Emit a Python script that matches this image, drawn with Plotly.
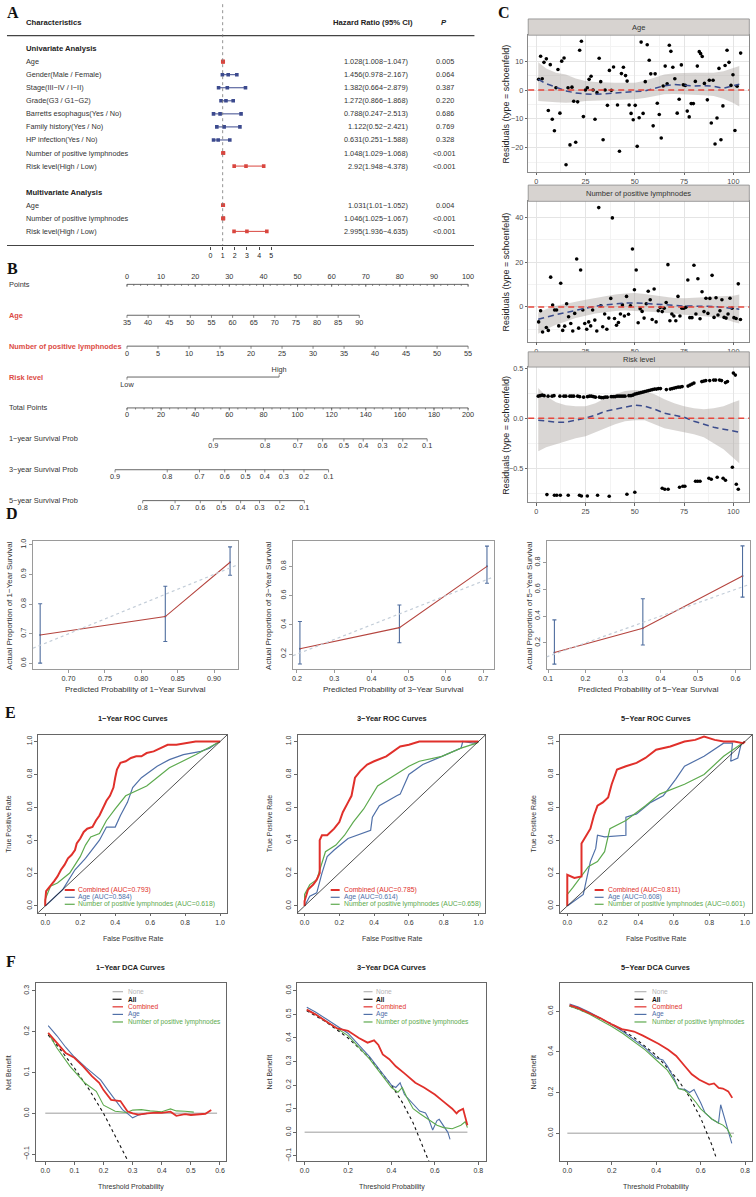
import plotly.graph_objects as go

W, H = 756, 1197
SANS = "Liberation Sans, Arial, sans-serif"
NARROW = "Liberation Sans, Arial, sans-serif"
SERIF = "Liberation Serif, Times New Roman, serif"

# ---------------- Panel A data (forest plot) ----------------
uni_labels = ["Age", "Gender(Male / Female)", "Stage(III−IV / I−II)", "Grade(G3 / G1−G2)",
              "Barretts esophagus(Yes / No)", "Family history(Yes / No)", "HP infection(Yes / No)",
              "Number of positive lymphnodes", "Risk level(High / Low)"]
uni_hr = [1.028, 1.456, 1.382, 1.272, 0.788, 1.122, 0.631, 1.048, 2.92]
uni_lo = [1.008, 0.978, 0.664, 0.866, 0.247, 0.52, 0.251, 1.029, 1.948]
uni_hi = [1.047, 2.167, 2.879, 1.868, 2.513, 2.421, 1.588, 1.068, 4.378]
uni_p = ["0.005", "0.064", "0.387", "0.220", "0.686", "0.769", "0.328", "<0.001", "<0.001"]
multi_labels = ["Age", "Number of positive lymphnodes", "Risk level(High / Low)"]
multi_hr = [1.031, 1.046, 2.995]
multi_lo = [1.01, 1.025, 1.936]
multi_hi = [1.052, 1.067, 4.635]
multi_p = ["0.004", "<0.001", "<0.001"]
forest_ticks = [0, 1, 2, 3, 4, 5]

# ---------------- Panel B data (nomogram) ----------------
points_ticks = [0, 10, 20, 30, 40, 50, 60, 70, 80, 90, 100]
age_ticks = [35, 40, 45, 50, 55, 60, 65, 70, 75, 80, 85, 90]
age_points_max = 68.1
ln_ticks = [0, 5, 10, 15, 20, 25, 30, 35, 40, 45, 50, 55]
ln_points_max = 100
risk_levels = ["Low", "High"]
risk_points = [0, 44.6]
total_ticks = [0, 20, 40, 60, 80, 100, 120, 140, 160, 180, 200]
surv1_labels = [0.9, 0.8, 0.7, 0.6, 0.5, 0.4, 0.3, 0.2, 0.1]
surv1_total = [50.6, 81.0, 100.1, 114.7, 127.2, 138.5, 149.8, 161.7, 176.0]
surv3_labels = [0.9, 0.8, 0.7, 0.6, 0.5, 0.4, 0.3, 0.2, 0.1]
surv3_total = [-7.0, 23.6, 42.5, 57.3, 69.5, 80.8, 91.9, 103.8, 118.2]
surv5_labels = [0.8, 0.7, 0.6, 0.5, 0.4, 0.3, 0.2, 0.1]
surv5_total = [9.2, 28.2, 43.0, 55.3, 66.6, 77.7, 89.6, 104.0]

# ---------------- Panel C data (Schoenfeld residuals) ----------------
age_t = [1.2, 2.2, 3, 3.9, 5.1, 6.1, 7.1, 8.1, 9.2, 10, 11, 12, 12.9, 14.1, 15.1, 16.1, 17.1, 18.1, 19, 20,
         21, 22, 22.9, 23.9, 24.9, 25.9, 26.8, 27.8, 28.8, 29.8, 30.8, 31.9, 32.7, 33.9, 34.9, 36.1, 37.1,
         38.1, 39.2, 41.2, 42.2, 43.2, 44.2, 45.3, 46.1, 47.1, 48.1, 49.2, 50.2, 51.2, 52.2, 53.2, 54.2,
         55.3, 56.3, 57.3, 58.1, 59.3, 60.3, 61.4, 62.4, 63.4, 64.4, 65.4, 66.4, 67.5, 68.3, 69.3, 70.3,
         71.5, 72.5, 73.6, 74.6, 75.6, 76.6, 77.6, 78.6, 79.7, 80.7, 81.7, 82.7, 83.4, 84.2, 85.3, 86.8,
         87.8, 88.8, 89.7, 90.7, 91.7, 92.7, 93.7, 94.7, 95.8, 96.8, 97.8, 98.8, 99.8, 100.8, 101.9, 103.7]
age_r = [3.7, 11.7, 3.9, 9.6, 10.8, -7.1, 8.8, -10.1, -14.1, 0.8, 7.1, -8.0, 10.0, 11.1, -25.9, 0.8, -19.0,
         1.0, -3.9, -18.1, -4.1, 13.8, 16.9, -9.2, 0.0, 0.8, 3.7, 4.8, 0.0, -10.1, -0.9, 11.0, 2.9, -17.2,
         0.0, -5.3, 6.8, -0.1, 8.0, -5.2, -21.2, 5.7, 7.9, 5.0, 3.1, -5.2, -8.1, -10.3, -5.3, -19.5, -9.6,
         16.6, -8.1, 2.9, 15.7, 10.3, 5.6, -12.4, 5.6, -4.6, -8.5, -16.6, 1.4, 8.3, 2.2, 15.5, 13.4, 7.9,
         3.9, -8.0, -3.2, 8.7, 1.8, 1.6, -7.3, -9.3, -4.7, -4.7, 3.0, 8.3, 13.3, 12.6, 11.6, 2.3, -3.4, 3.4,
         -11.4, 3.4, -18.7, -9.7, 7.5, -17.2, -5.5, 8.5, 13.8, 9.6, 1.6, 5.3, -14.0, 1.3, 12.8]
ln_t = [1.2, 2.2, 3.2, 5.1, 6.1, 7.3, 8.3, 9.3, 10.3, 11.4, 12.4, 13.4, 14.4, 15.4, 16.4, 17.5, 18.5, 19.5,
        20.5, 21.5, 22.5, 23.6, 24.6, 25.6, 26.6, 27.6, 28.6, 29.7, 30.7, 31.7, 32.7, 33.7, 34.7, 35.8, 36.8,
        37.8, 38.6, 39.7, 40.7, 41.7, 42.7, 43.7, 44.7, 45.8, 46.8, 47.8, 48.8, 49.8, 50.7, 51.7, 52.7, 53.7,
        54.7, 55.8, 56.8, 57.8, 58.8, 59.8, 60.8, 61.9, 62.9, 63.9, 64.9, 65.9, 66.8, 67.8, 68.8, 69.8, 70.8,
        71.9, 72.9, 73.9, 74.9, 75.9, 76.9, 77.9, 79.0, 80.0, 81.0, 82.0, 83.1, 84.1, 85.1, 86.1, 87.1, 88.1,
        89.2, 90.2, 91.2, 92.2, 93.2, 94.2, 95.3, 96.3, 97.3, 98.3, 99.3, 100.3, 101.4, 102.5, 103.6]
ln_r = [-6.7, -1.7, -11.2, -9.2, -10.5, 13.3, 0.8, -1.4, -1.4, -8.5, 10.6, -10.5, -8.6, 1.4, -4.4, -7.4,
        -10.8, -2.9, 21.4, -9.5, 16.5, -1.4, -7.4, -10.0, -6.7, -8.5, -1.4, -5.9, -10.8, 44.4, 0.5, -8.9,
        -3.2, -10.0, -5.0, 3.8, 39.8, -5.2, -8.2, -7.0, -3.2, 0.9, -4.1, 4.7, -3.3, 0.5, 25.9, 7.7, 16.5,
        -7.1, -0.8, -2.0, -5.0, 1.4, 7.0, 3.2, -5.6, 8.0, -6.7, -1.7, -0.3, -2.1, -0.6, 2.0, 18.9, -6.2,
        -3.2, -4.1, -6.2, 4.7, -4.1, -0.6, -0.6, -0.2, 12.0, -4.8, -4.8, 18.6, -3.2, 12.6, -5.3, 6.8, -2.1,
        3.9, -2.9, 3.8, 14.1, -4.7, 4.1, -3.6, -1.7, 3.2, -4.7, -5.0, -3.2, 3.9, -0.6, -4.8, -5.2, 10.3, -5.6]
risk_up_t = [1, 2, 3, 4, 6, 8, 9, 12, 14, 15, 17, 18, 19, 21, 22, 24, 26, 27, 28, 29, 30, 32, 33, 34, 35, 36,
             38, 39, 40, 41, 42, 43, 44, 45, 47, 48, 49, 50, 51, 52, 53, 54, 55, 56, 57, 58, 59, 60, 61, 62,
             63, 66, 68, 69, 70, 71, 72, 73, 74, 77, 78, 79, 80, 84, 85, 86, 88, 90, 91, 93, 94, 96, 97, 100, 101]
risk_up_r = [0.22, 0.225, 0.23, 0.225, 0.22, 0.22, 0.225, 0.22, 0.22, 0.22, 0.22, 0.22, 0.22, 0.22, 0.215,
             0.21, 0.215, 0.22, 0.22, 0.215, 0.21, 0.21, 0.205, 0.205, 0.21, 0.21, 0.215, 0.215, 0.215, 0.22,
             0.22, 0.22, 0.22, 0.22, 0.225, 0.225, 0.23, 0.24, 0.245, 0.25, 0.255, 0.26, 0.265, 0.27, 0.275,
             0.28, 0.285, 0.29, 0.29, 0.295, 0.295, 0.285, 0.29, 0.295, 0.30, 0.305, 0.31, 0.31, 0.315, 0.32,
             0.33, 0.34, 0.35, 0.365, 0.37, 0.375, 0.375, 0.38, 0.38, 0.38, 0.375, 0.355, 0.365, 0.45, 0.43]
risk_lo_t = [5.4, 9.2, 10.4, 12.2, 16.2, 21.9, 22.9, 25.9, 31.1, 37, 46, 50, 63.9, 65.2, 66.9, 72.7, 74.4,
             75.4, 80.8, 81.9, 83.1, 87.6, 88.8, 91.8, 94.8, 96, 99.5, 101.5, 102.5]
risk_lo_r = [-0.763, -0.77, -0.77, -0.77, -0.77, -0.77, -0.777, -0.777, -0.77, -0.78, -0.76, -0.74, -0.70,
             -0.71, -0.71, -0.69, -0.68, -0.68, -0.63, -0.63, -0.63, -0.60, -0.61, -0.59, -0.60, -0.62,
             -0.49, -0.66, -0.71]
smooth_t = [1, 5, 10, 15, 20, 25, 30, 35, 40, 45, 50, 55, 60, 65, 70, 75, 80, 85, 90, 95, 100, 103]
age_s = [3.7, 2.2, 1.0, -0.3, -1.0, -1.4, -1.5, -1.3, -1.0, -0.8, -0.6, -0.3, 0.6, 1.5, 1.9, 1.7, 1.4, 1.5, 1.3, 0.6, 1.6, 2.0]
age_hi = [9.6, 7.5, 6.0, 5.4, 4.0, 3.1, 2.8, 2.6, 2.5, 2.5, 2.5, 3.2, 4.3, 5.4, 5.8, 6.0, 6.0, 6.0, 6.0, 6.5, 7.5, 8.3]
age_lo = [-3.8, -4.0, -4.2, -4.4, -4.2, -3.8, -3.5, -3.4, -3.3, -3.3, -3.2, -2.8, -2.2, -1.5, -1.4, -1.5, -1.6, -1.8, -2.1, -3.0, -4.5, -5.7]
ln_s = [-5.5, -4.5, -3.5, -2.5, -1.5, -0.5, 0.3, 0.9, 1.4, 1.7, 1.8, 1.6, 1.3, 1.0, 0.7, 0.4, 0.2, 0.3, 0.2, -0.2, -0.8, -1.0]
ln_hi = [-2.5, -1.0, 0.5, 1.5, 2.5, 3.2, 4.0, 4.8, 5.5, 6.0, 6.2, 5.8, 5.2, 4.5, 4.0, 3.9, 4.0, 4.3, 4.6, 4.8, 5.0, 5.5]
ln_lo = [-12.0, -10.0, -8.0, -6.5, -5.0, -4.0, -3.0, -2.3, -1.8, -1.6, -1.8, -2.0, -2.3, -2.5, -3.0, -3.5, -4.0, -4.2, -4.5, -5.2, -6.7, -7.4]
risk_s = [-0.02, -0.03, -0.04, -0.04, -0.02, 0.0, 0.03, 0.07, 0.09, 0.11, 0.13, 0.12, 0.09, 0.05, 0.03, 0.01, -0.03, -0.06, -0.09, -0.11, -0.125, -0.14]
risk_hi = [0.30, 0.22, 0.16, 0.13, 0.12, 0.12, 0.15, 0.20, 0.24, 0.27, 0.28, 0.27, 0.24, 0.19, 0.15, 0.12, 0.10, 0.09, 0.10, 0.12, 0.16, 0.18]
risk_lo = [-0.33, -0.29, -0.26, -0.23, -0.20, -0.18, -0.14, -0.10, -0.06, -0.03, -0.02, -0.02, -0.06, -0.10, -0.12, -0.14, -0.16, -0.19, -0.25, -0.31, -0.40, -0.45]

# ---------------- Panel D data (calibration) ----------------
cal_pred = [[0.661, 0.833, 0.922], [0.208, 0.475, 0.71], [0.117, 0.353, 0.619]]
cal_obs = [[0.696, 0.758, 0.941], [0.237, 0.381, 0.80], [0.129, 0.31, 0.70]]
cal_lo = [[0.601, 0.674, 0.897], [0.133, 0.278, 0.685], [0.042, 0.185, 0.542]]
cal_hi = [[0.801, 0.860, 0.993], [0.423, 0.536, 0.938], [0.372, 0.53, 0.925]]
cal_years = ["1", "3", "5"]

# ---------------- Panel E data (ROC) ----------------
roc1_comb_fpr = [0, 0, 0.005, 0.03, 0.05, 0.07, 0.09, 0.11, 0.13, 0.15, 0.17, 0.18, 0.20, 0.22, 0.24, 0.27, 0.29, 0.31, 0.33, 0.35, 0.37, 0.39, 0.40, 0.41, 0.43, 0.46, 0.49, 0.52, 0.55, 0.58, 0.62, 0.66, 0.70, 0.75, 0.80, 0.86, 0.92, 0.97, 1.0]
roc1_comb_tpr = [0, 0.03, 0.09, 0.12, 0.15, 0.18, 0.22, 0.25, 0.29, 0.31, 0.34, 0.38, 0.41, 0.45, 0.47, 0.48, 0.52, 0.55, 0.60, 0.64, 0.67, 0.72, 0.78, 0.83, 0.87, 0.88, 0.90, 0.91, 0.91, 0.93, 0.94, 0.96, 0.98, 0.98, 0.99, 1.0, 1.0, 1.0, 1.0]
roc1_age_fpr = [0, 0.05, 0.10, 0.17, 0.23, 0.31, 0.35, 0.40, 0.43, 0.47, 0.50, 0.55, 0.64, 0.71, 0.79, 0.89, 0.94, 0.98, 1.0]
roc1_age_tpr = [0, 0.05, 0.10, 0.22, 0.29, 0.40, 0.48, 0.48, 0.55, 0.63, 0.72, 0.78, 0.85, 0.89, 0.92, 0.94, 0.96, 0.99, 1.0]
roc1_ln_fpr = [0, 0, 0.03, 0.07, 0.14, 0.20, 0.23, 0.26, 0.31, 0.35, 0.40, 0.46, 0.58, 0.71, 0.86, 0.98, 1.0]
roc1_ln_tpr = [0, 0.04, 0.12, 0.14, 0.20, 0.30, 0.37, 0.42, 0.44, 0.52, 0.59, 0.67, 0.73, 0.84, 0.92, 0.99, 1.0]
roc2_comb_fpr = [0, 0, 0.02, 0.05, 0.07, 0.087, 0.087, 0.10, 0.13, 0.15, 0.17, 0.20, 0.22, 0.25, 0.27, 0.29, 0.32, 0.36, 0.40, 0.47, 0.55, 0.60, 0.66, 0.74, 0.85, 0.92, 1.0]
roc2_comb_tpr = [0, 0.03, 0.10, 0.13, 0.16, 0.20, 0.40, 0.43, 0.43, 0.45, 0.47, 0.51, 0.57, 0.63, 0.67, 0.78, 0.82, 0.86, 0.88, 0.91, 0.97, 0.98, 1.0, 1.0, 1.0, 1.0, 1.0]
roc2_age_fpr = [0, 0.03, 0.07, 0.10, 0.13, 0.17, 0.25, 0.38, 0.39, 0.43, 0.53, 0.55, 0.60, 0.68, 0.79, 0.90, 0.91, 0.97, 1.0]
roc2_age_tpr = [0, 0.06, 0.08, 0.20, 0.30, 0.34, 0.41, 0.46, 0.54, 0.61, 0.67, 0.68, 0.80, 0.86, 0.91, 0.96, 1.0, 0.99, 1.0]
roc2_ln_fpr = [0, 0, 0.03, 0.07, 0.12, 0.18, 0.23, 0.28, 0.34, 0.38, 0.42, 0.60, 0.66, 0.79, 0.90, 0.99, 1.0]
roc2_ln_tpr = [0, 0.07, 0.13, 0.16, 0.33, 0.37, 0.43, 0.51, 0.59, 0.66, 0.73, 0.85, 0.88, 0.91, 0.96, 0.99, 1.0]
roc3_comb_fpr = [0, 0, 0.04, 0.08, 0.08, 0.11, 0.13, 0.15, 0.17, 0.20, 0.23, 0.25, 0.27, 0.28, 0.33, 0.39, 0.44, 0.50, 0.58, 0.66, 0.72, 0.77, 0.83, 0.88, 0.94, 0.99, 1.0]
roc3_comb_tpr = [0, 0.19, 0.17, 0.18, 0.38, 0.43, 0.47, 0.55, 0.61, 0.63, 0.66, 0.74, 0.80, 0.83, 0.85, 0.87, 0.90, 0.95, 0.97, 1.0, 1.01, 1.03, 1.01, 1.0, 1.0, 0.99, 1.0]
roc3_age_fpr = [0, 0.04, 0.09, 0.13, 0.16, 0.17, 0.21, 0.33, 0.33, 0.39, 0.47, 0.54, 0.61, 0.66, 0.77, 0.88, 0.93, 0.92, 0.96, 0.98, 1.0]
roc3_age_tpr = [0, 0.03, 0.07, 0.27, 0.35, 0.43, 0.42, 0.43, 0.54, 0.56, 0.63, 0.67, 0.77, 0.85, 0.91, 0.99, 0.99, 0.88, 0.90, 0.99, 1.0]
roc3_ln_fpr = [0, 0, 0.03, 0.07, 0.12, 0.17, 0.21, 0.24, 0.33, 0.44, 0.51, 0.52, 0.66, 0.77, 0.88, 0.99, 1.0]
roc3_ln_tpr = [0, 0.07, 0.11, 0.17, 0.24, 0.27, 0.33, 0.47, 0.52, 0.61, 0.67, 0.68, 0.74, 0.80, 0.91, 0.99, 1.0]
auc_comb = ["0.793", "0.785", "0.811"]
auc_age = ["0.584", "0.614", "0.608"]
auc_ln = ["0.618", "0.658", "0.601"]

# ---------------- Panel F data (DCA) ----------------
dca1_none_x = [0.0, 0.59]; dca1_none_y = [0, 0]
dca1_all_x = [0.01, 0.05, 0.10, 0.15, 0.20, 0.25, 0.28]
dca1_all_y = [0.192, 0.158, 0.111, 0.059, 0.0, -0.067, -0.111]
dca1_comb_x = [0.01, 0.04, 0.07, 0.10, 0.13, 0.16, 0.185, 0.20, 0.226, 0.258, 0.282, 0.30, 0.32, 0.35, 0.38, 0.40, 0.43, 0.45, 0.48, 0.50, 0.53, 0.55, 0.57]
dca1_comb_y = [0.197, 0.172, 0.148, 0.136, 0.115, 0.091, 0.075, 0.057, 0.033, 0.030, 0.005, 0.0, -0.003, 0.000, 0.002, 0.001, 0.004, -0.006, -0.002, -0.004, -0.003, -0.001, 0.008]
dca1_age_x = [0.01, 0.04, 0.07, 0.10, 0.14, 0.19, 0.215, 0.24, 0.265, 0.287, 0.30, 0.32, 0.35]
dca1_age_y = [0.215, 0.19, 0.162, 0.138, 0.112, 0.082, 0.057, 0.033, 0.009, -0.003, -0.011, -0.004, 0.0]
dca1_ln_x = [0.01, 0.04, 0.085, 0.135, 0.175, 0.20, 0.24, 0.28, 0.30, 0.33, 0.36, 0.40, 0.43, 0.45, 0.48, 0.51]
dca1_ln_y = [0.197, 0.16, 0.115, 0.075, 0.054, 0.02, 0.005, 0.002, 0.008, 0.009, 0.006, 0.004, 0.011, 0.006, 0.005, 0.003]

dca2_none_x = [0.0, 0.75]; dca2_none_y = [0, 0]
dca2_all_x = [0.01, 0.1, 0.2, 0.3, 0.4, 0.45, 0.5, 0.55, 0.575]
dca2_all_y = [0.515, 0.467, 0.40, 0.314, 0.20, 0.127, 0.04, -0.067, -0.129]
dca2_comb_x = [0.01, 0.05, 0.10, 0.15, 0.20, 0.25, 0.29, 0.32, 0.34, 0.36, 0.39, 0.42, 0.46, 0.51, 0.55, 0.60, 0.64, 0.68, 0.70, 0.71, 0.73, 0.75]
dca2_comb_y = [0.52, 0.50, 0.47, 0.44, 0.43, 0.40, 0.38, 0.39, 0.37, 0.33, 0.31, 0.28, 0.25, 0.21, 0.19, 0.16, 0.13, 0.10, 0.08, 0.09, 0.10, 0.03]
dca2_age_x = [0.01, 0.05, 0.1, 0.15, 0.2, 0.25, 0.3, 0.35, 0.4, 0.42, 0.44, 0.46, 0.48, 0.5, 0.53, 0.557, 0.57, 0.59, 0.61, 0.62, 0.64, 0.66, 0.67]
dca2_age_y = [0.53, 0.51, 0.48, 0.45, 0.42, 0.37, 0.32, 0.26, 0.20, 0.19, 0.21, 0.16, 0.14, 0.12, 0.09, 0.082, 0.06, 0.01, 0.05, 0.055, 0.03, 0.0, -0.03]
dca2_ln_x = [0.01, 0.05, 0.1, 0.15, 0.2, 0.25, 0.3, 0.35, 0.4, 0.43, 0.45, 0.47, 0.5, 0.53, 0.56, 0.61, 0.64, 0.68, 0.72, 0.74, 0.75]
dca2_ln_y = [0.52, 0.50, 0.47, 0.44, 0.41, 0.36, 0.31, 0.25, 0.19, 0.17, 0.19, 0.15, 0.10, 0.08, 0.06, 0.03, 0.02, 0.015, 0.03, 0.045, 0.02]

dca3_none_x = [0.0, 0.75]; dca3_none_y = [0, 0]
dca3_all_x = [0.01, 0.1, 0.2, 0.3, 0.4, 0.5, 0.55, 0.6, 0.65, 0.67]
dca3_all_y = [0.626, 0.589, 0.5375, 0.471, 0.383, 0.26, 0.178, 0.075, -0.057, -0.121]
dca3_comb_x = [0.01, 0.05, 0.1, 0.15, 0.2, 0.25, 0.27, 0.30, 0.34, 0.378, 0.41, 0.454, 0.49, 0.53, 0.56, 0.594, 0.62, 0.638, 0.66, 0.681, 0.70, 0.724, 0.742]
dca3_comb_y = [0.63, 0.615, 0.59, 0.565, 0.535, 0.51, 0.507, 0.50, 0.48, 0.459, 0.44, 0.41, 0.38, 0.328, 0.29, 0.263, 0.25, 0.239, 0.245, 0.223, 0.22, 0.206, 0.174]
dca3_age_x = [0.01, 0.05, 0.1, 0.15, 0.2, 0.25, 0.3, 0.35, 0.4, 0.43, 0.45, 0.48, 0.5, 0.53, 0.55, 0.57, 0.6, 0.62, 0.65, 0.68, 0.69, 0.70, 0.72, 0.74]
dca3_age_y = [0.635, 0.62, 0.595, 0.565, 0.535, 0.50, 0.46, 0.42, 0.37, 0.36, 0.33, 0.27, 0.22, 0.215, 0.20, 0.215, 0.15, 0.10, 0.07, 0.05, 0.14, 0.10, 0.03, -0.05]
dca3_ln_x = [0.01, 0.05, 0.1, 0.15, 0.2, 0.25, 0.3, 0.35, 0.4, 0.45, 0.48, 0.5, 0.53, 0.55, 0.58, 0.6, 0.63, 0.65, 0.68, 0.70, 0.72, 0.74]
dca3_ln_y = [0.625, 0.61, 0.585, 0.555, 0.525, 0.49, 0.45, 0.41, 0.36, 0.31, 0.26, 0.22, 0.21, 0.19, 0.15, 0.12, 0.09, 0.07, 0.05, 0.04, 0.02, -0.02]

# ================= helpers =================
fig = go.Figure()
annotations, shapes, axes = [], [], {}


def xdom(a, b):
    return [a / W, b / W]


def ydom(top, bot):
    return [1 - bot / H, 1 - top / H]


def xn(i):
    return "x" if i == 1 else f"x{i}"


def yn(i):
    return "y" if i == 1 else f"y{i}"


def text(t, x, y, size=7.5, color="#222", family=SANS, xanchor="center", yanchor="middle",
         xref="paper", yref="paper", angle=0):
    if xref == "paper":
        x = x / W
    if yref == "paper":
        y = 1 - y / H
    annotations.append(dict(text=t, x=x, y=y, xref=xref, yref=yref, showarrow=False, xanchor=xanchor,
                            yanchor=yanchor, textangle=angle, borderpad=0,
                            font=dict(size=size, color=color, family=family)))


def line_trace(i, x, y, color, width=1.0, dash=None, mode="lines"):
    fig.add_trace(go.Scatter(x=x, y=y, mode=mode, xaxis=xn(i), yaxis=yn(i), hoverinfo="skip",
                             showlegend=False, line=dict(color=color, width=width, dash=dash)))


def hidden_axes(i, xd, yd, xr, yr):
    axes["xaxis" if i == 1 else f"xaxis{i}"] = dict(domain=xd, range=xr, anchor=yn(i), visible=False)
    axes["yaxis" if i == 1 else f"yaxis{i}"] = dict(domain=yd, range=yr, anchor=xn(i), visible=False)


def fmt(v):
    s = f"{v:.1f}"
    return s.replace("-", "−")


# ================= Panel A =================
A_RED, A_NAVY = "#D9463F", "#3C4A8E"
axes["xaxis"] = dict(domain=xdom(4, 473.3), range=[-16.75, 21.72], anchor="y", tickvals=forest_ticks,
                     ticks="outside", ticklen=3, tickwidth=0.8, tickcolor="#444", showline=True,
                     linecolor="#444", linewidth=1.2, showgrid=False, zeroline=False,
                     tickfont=dict(family=SANS, size=7, color="#222"))
axes["yaxis"] = dict(domain=ydom(0, 243.3), range=[15.08, -3.49], anchor="x", visible=False)
shapes.append(dict(type="line", xref="paper", x0=4 / W, x1=473.3 / W, yref="y", y0=-0.99, y1=-0.99,
                   line=dict(color="#444", width=1.2)))
shapes.append(dict(type="line", xref="x", x0=1, x1=1, yref="y", y0=-3.4, y1=15.08,
                   line=dict(color="#777", width=0.8, dash="dot")))
text("<b>Characteristics</b>", 21.7, -2.02, yref="y", xanchor="left", size=7.7)
text("<b>Hazard Ratio (95% CI)</b>", 371.7, -2.02, yref="y", size=7.7)
text("<b><i>P</i></b>", 442.3, -2.02, yref="y", size=7.7)
text("<b>Univariate Analysis</b>", 21.7, 0, yref="y", xanchor="left", size=7.7)
text("<b>Multivariate Analysis</b>", 21.7, 11, yref="y", xanchor="left", size=7.7)
rows = list(zip(uni_labels, uni_hr, uni_lo, uni_hi, uni_p, range(1, 10))) + \
    list(zip(multi_labels, multi_hr, multi_lo, multi_hi, multi_p, [12, 13, 14]))
for lab, hr, lo, hi, p, idx in rows:
    sig = p.startswith("<") or float(p) < 0.05
    col = A_RED if sig else A_NAVY
    fig.add_trace(go.Scatter(x=[lo, hr, hi], y=[idx] * 3, mode="lines+markers", xaxis="x", yaxis="y",
                             line=dict(color=col, width=1), marker=dict(symbol="square", size=3.6, color=col),
                             hoverinfo="skip", showlegend=False))
    text(lab, 21.7, idx, yref="y", xanchor="left", size=7.3, color="#333")
    text(f"{hr}({lo}−{hi})", 407.7, idx, yref="y", xanchor="right", size=7.3, color="#333")
    text(p.replace("<", "&lt;"), 443.3, idx, yref="y", size=7.3, color="#333")

# ================= Panel B (nomogram) =================
NOMO = "#555555"
hidden_axes(2, xdom(0, 500), ydom(262, 512), [-72.7, 219.3], [7.41, -0.655])
TL = 0.085


def nomo_row(r, major_x, labels, side="below", minor_x=()):
    line_trace(2, [min(major_x), max(major_x)], [r, r], NOMO, 0.9)
    tx, ty = [], []
    for v in major_x:
        tx += [v, v, None]
        ty += [r, r + TL, None]
    for v in minor_x:
        tx += [v, v, None]
        ty += [r, r + TL * 0.6, None]
    line_trace(2, tx, ty, NOMO, 0.7)
    off = -0.235 if side == "above" else 0.25
    fig.add_trace(go.Scatter(x=major_x, y=[r + off] * len(major_x), mode="text", text=labels,
                             textfont=dict(family=SANS, size=7.3, color="#333"), xaxis="x2", yaxis="y2",
                             hoverinfo="skip", showlegend=False))


nomo_row(0, [2 * v for v in points_ticks], [str(v) for v in points_ticks], "above",
         [2 * v for v in range(0, 101, 2)])
nomo_row(1, [2 * (a - age_ticks[0]) / (age_ticks[-1] - age_ticks[0]) * age_points_max for a in age_ticks],
         [str(a) for a in age_ticks])
nomo_row(2, [2 * n / ln_ticks[-1] * ln_points_max for n in ln_ticks], [str(n) for n in ln_ticks])
rx = [2 * p for p in risk_points]
line_trace(2, rx, [3, 3], NOMO, 0.9)
line_trace(2, [rx[0], rx[0], None, rx[1], rx[1]], [3, 3 + TL, None, 3, 3 - TL], NOMO, 0.7)
fig.add_trace(go.Scatter(x=rx, y=[3.25, 3 - 0.235], mode="text", text=risk_levels,
                         textfont=dict(family=SANS, size=7.3, color="#333"), xaxis="x2", yaxis="y2",
                         hoverinfo="skip", showlegend=False))
nomo_row(4, total_ticks, [str(v) for v in total_ticks], "below", list(range(0, 201, 5)))
nomo_row(5, surv1_total, [f"{v:g}" for v in surv1_labels])
nomo_row(6, surv3_total, [f"{v:g}" for v in surv3_labels])
nomo_row(7, surv5_total, [f"{v:g}" for v in surv5_labels])
B_RED = "#DC4B45"
for r, lab, col, bold in [(0, "Points", "#333", False), (1, "Age", B_RED, True),
                          (2, "Number of positive lymphnodes", B_RED, True), (3, "Risk level", B_RED, True),
                          (4, "Total Points", "#333", False), (5, "1−year Survival Prob", "#333", False),
                          (6, "3−year Survival Prob", "#333", False), (7, "5−year Survival Prob", "#333", False)]:
    text(f"<b>{lab}</b>" if bold else lab, 5, r, yref="y2", xanchor="left", size=7.4, color=col)

# ================= Panel C (Schoenfeld) =================
C_X = (527.3, 749.3)
c_specs = [
    (3, "Age", age_t, age_r, age_s, age_lo, age_hi, 32.3, 169.3, 16.0, [-28.3, 19.0], 10, 5, None),
    (4, "Number of positive lymphnodes", ln_t, ln_r, ln_s, ln_lo, ln_hi, 199.0, 339.7, 182.7,
     [-15.5, 47.2], 20, 10, None),
    (5, "Risk level", risk_up_t + risk_lo_t, risk_up_r + risk_lo_r, risk_s, risk_lo, risk_hi, 365.3, 501.0,
     350.0, [-0.84, 0.51], 0.5, 0.25, ".1f"),
]
for i, name, tt, rr, ss, lo, hi, top, bot, stop, yrng, dt, mdt, tf in c_specs:
    common = dict(ticks="outside", ticklen=2.5, tickwidth=0.8, tickcolor="#666", showline=True, mirror=True,
                  linecolor="#8A8A8A", linewidth=0.8, showgrid=True, gridcolor="#E4E4E4", gridwidth=0.7,
                  zeroline=False, tickfont=dict(family=SANS, size=7.3, color="#4D4D4D"))
    axes[f"xaxis{i}"] = dict(domain=xdom(*C_X), range=[-4.1, 108.1], anchor=yn(i), tick0=0, dtick=25,
                             minor=dict(tick0=0, dtick=12.5, showgrid=True, gridcolor="#F3F3F3", gridwidth=0.5),
                             **common)
    ya = dict(domain=ydom(top, bot), range=yrng, anchor=xn(i), tick0=0, dtick=dt,
              minor=dict(tick0=0, dtick=mdt, showgrid=True, gridcolor="#F3F3F3", gridwidth=0.5), **common)
    if tf:
        ya["tickformat"] = tf
    axes[f"yaxis{i}"] = ya
    fig.add_trace(go.Scatter(x=smooth_t + smooth_t[::-1], y=hi + lo[::-1], fill="toself", mode="lines",
                             fillcolor="rgba(165,158,152,0.42)", line=dict(width=0), xaxis=xn(i), yaxis=yn(i),
                             hoverinfo="skip", showlegend=False))
    fig.add_trace(go.Scatter(x=tt, y=rr, mode="markers", marker=dict(color="black", size=3.6),
                             xaxis=xn(i), yaxis=yn(i), hoverinfo="skip", showlegend=False))
    line_trace(i, smooth_t, ss, "#3B4C8C", 1.5, "6px,4px")
    shapes.append(dict(type="line", xref=f"x{i} domain", x0=0, x1=1, yref=yn(i), y0=0, y1=0,
                       line=dict(color="#E8473D", width=1.5, dash="6px,4px")))
    shapes.append(dict(type="rect", xref="paper", yref="paper", x0=C_X[0] / W, x1=C_X[1] / W,
                       y0=1 - top / H, y1=1 - stop / H, fillcolor="#D7D3D0",
                       line=dict(color="#8A8A8A", width=0.8)))
    text(name, (C_X[0] + C_X[1]) / 2, (top + stop) / 2, size=7.5, color="#333")
    text("Residuals (type = schoenfeld)", 505, (top + bot) / 2, size=9, color="#222", angle=-90)


# ================= R-style axes for D / E / F =================
def r_axes(i, xd, yd, xr, yr, xt, yt, box="#666", tsize=7.0):
    base = dict(ticks="outside", ticklen=3, tickwidth=0.7, tickcolor=box, showline=True, mirror=True,
                linecolor=box, linewidth=0.8, showgrid=False, zeroline=False,
                tickfont=dict(family=NARROW, size=tsize, color="#333"))
    axes[f"xaxis{i}"] = dict(domain=xd, range=xr, anchor=yn(i), tickvals=xt[0], ticktext=xt[1], **base)
    axes[f"yaxis{i}"] = dict(domain=yd, range=yr, anchor=xn(i), tickvals=yt[0], ticktext=yt[1],
                             tickangle=-90, **base)


# ================= Panel D (calibration) =================
D_TOP, D_BOT = 540, 668
d_specs = [
    (6, (30, 236), [0.651, 0.933], [0.582, 1.012], [0.70, 0.75, 0.80, 0.85, 0.90], "{:.2f}",
     [0.6, 0.7, 0.8, 0.9, 1.0], 7),
    (7, (291, 493), [0.189, 0.729], [0.10, 0.972], [0.2, 0.3, 0.4, 0.5, 0.6, 0.7], "{:.1f}",
     [0.2, 0.4, 0.6, 0.8], 267),
    (8, (545.7, 750), [0.096, 0.639], [0.007, 0.96], [0.1, 0.2, 0.3, 0.4, 0.5, 0.6], "{:.1f}",
     [0.2, 0.4, 0.6, 0.8], 529),
]
for k, (i, xd, xr, yr, xt, xf, yt, ytx) in enumerate(d_specs):
    r_axes(i, xdom(*xd), ydom(D_TOP, D_BOT), xr, yr, (xt, [xf.format(v) for v in xt]),
           (yt, [fmt(v) for v in yt]), box="#9A9A9A", tsize=7.2)
    shapes.append(dict(type="line", xref=xn(i), yref=yn(i), x0=xr[0], y0=xr[0], x1=xr[1], y1=xr[1],
                       line=dict(color="#C3CDD8", width=1.2, dash="dot"), layer="above"))
    err = [h - o for h, o in zip(cal_hi[k], cal_obs[k])]
    errm = [o - l for o, l in zip(cal_obs[k], cal_lo[k])]
    fig.add_trace(go.Scatter(x=cal_pred[k], y=cal_obs[k], mode="markers", xaxis=xn(i), yaxis=yn(i),
                             marker=dict(size=2, color="#4F6D9E"),
                             error_y=dict(type="data", array=err, arrayminus=errm, color="#4F6D9E",
                                          thickness=1.1, width=2),
                             hoverinfo="skip", showlegend=False))
    line_trace(i, cal_pred[k], cal_obs[k], "#B5453F", 1.1)
    yr_ = cal_years[k]
    text(f"Actual Proportion of {yr_}−Year Survival", ytx, (D_TOP + D_BOT) / 2, size=8,
         family=NARROW, color="#333", angle=-90)
    text(f"Predicted Probability of {yr_}−Year Survival", (xd[0] + xd[1]) / 2, 689, size=8,
         family=NARROW, color="#333")

# ================= Panel E (ROC) =================
RED, BLUE, GREEN = "#E0302B", "#5070A8", "#5DAA4E"
E_TOP, E_BOT = 734.4, 912.6
roc_ticks = [0, 0.2, 0.4, 0.6, 0.8, 1.0]
roc_sets = [
    (roc1_comb_fpr, roc1_comb_tpr, roc1_age_fpr, roc1_age_tpr, roc1_ln_fpr, roc1_ln_tpr),
    (roc2_comb_fpr, roc2_comb_tpr, roc2_age_fpr, roc2_age_tpr, roc2_ln_fpr, roc2_ln_tpr),
    (roc3_comb_fpr, roc3_comb_tpr, roc3_age_fpr, roc3_age_tpr, roc3_ln_fpr, roc3_ln_tpr),
]
e_x = [(35.4, 225.0), (295.8, 484.3), (559.4, 752.0)]
e_ytitle_x = [6, 267.6, 532.8]
e_leg = [(62, 72, 74.7), (329, 338, 341), (594, 603, 606.6)]
for k in range(3):
    i = 9 + k
    xd = e_x[k]
    r_axes(i, xdom(*xd), ydom(E_TOP, E_BOT), [-0.04, 1.04], [-0.04, 1.04],
           (roc_ticks, [fmt(v) for v in roc_ticks]), (roc_ticks, [fmt(v) for v in roc_ticks]))
    shapes.append(dict(type="line", xref=f"x{i} domain", yref=f"y{i} domain", x0=0, y0=0, x1=1, y1=1,
                       line=dict(color="#222", width=0.8)))
    cf, ct, af, at, lf, lt = roc_sets[k]
    line_trace(i, af, at, BLUE, 1.2)
    line_trace(i, lf, lt, GREEN, 1.2)
    line_trace(i, cf, ct, RED, 2.0)
    cx = (xd[0] + xd[1]) / 2
    text(f"<b>{cal_years[k]}−Year ROC Curves</b>", cx, 718.3, size=7.4, family=NARROW, color="#222")
    text("True Positive Rate", e_ytitle_x[k], (E_TOP + E_BOT) / 2, size=7, family=NARROW, color="#333",
         angle=-90)
    text("False Positive Rate", cx, 939, size=7, family=NARROW, color="#333")
    l0, l1, tx = e_leg[k]
    for yy, col, lab, wd in [(890, RED, f"Combined (AUC={auc_comb[k]})", 2.0),
                             (897.3, BLUE, f"Age (AUC={auc_age[k]})", 1.2),
                             (904.3, GREEN, f"Number of positive lymphnodes (AUC={auc_ln[k]})", 1.2)]:
        shapes.append(dict(type="line", xref="paper", yref="paper", x0=l0 / W, x1=l1 / W,
                           y0=1 - yy / H, y1=1 - yy / H, line=dict(color=col, width=wd)))
        text(lab, tx, yy, size=6.8, family=NARROW, color=col, xanchor="left")

# ================= Panel F (DCA) =================
F_TOP, F_BOT = 983, 1162
dca_sets = [
    (dca1_none_x, dca1_none_y, dca1_all_x, dca1_all_y, dca1_comb_x, dca1_comb_y, dca1_age_x, dca1_age_y,
     dca1_ln_x, dca1_ln_y),
    (dca2_none_x, dca2_none_y, dca2_all_x, dca2_all_y, dca2_comb_x, dca2_comb_y, dca2_age_x, dca2_age_y,
     dca2_ln_x, dca2_ln_y),
    (dca3_none_x, dca3_none_y, dca3_all_x, dca3_all_y, dca3_comb_x, dca3_comb_y, dca3_age_x, dca3_age_y,
     dca3_ln_x, dca3_ln_y),
]
f_specs = [
    ((32.8, 224.0), [-0.033, 0.621], [-0.117, 0.32], [0, 0.1, 0.2, 0.3, 0.4, 0.5, 0.6], [-0.1, 0, 0.1, 0.2, 0.3]),
    ((295.4, 485.0), [-0.034, 0.836], [-0.122, 0.634], [0, 0.2, 0.4, 0.6, 0.8],
     [-0.1, 0, 0.1, 0.2, 0.3, 0.4, 0.5, 0.6]),
    ((559.0, 752.0), [-0.034, 0.831], [-0.137, 0.74], [0, 0.2, 0.4, 0.6, 0.8], [0, 0.2, 0.4, 0.6]),
]
f_leg = [(110, 120.5, 124.4), (362, 371, 373.7), (634, 646, 651)]
for k in range(3):
    i = 12 + k
    xd, xr, yr, xt, yt = f_specs[k]
    r_axes(i, xdom(*xd), ydom(F_TOP, F_BOT), xr, yr, (xt, [fmt(v) for v in xt]), (yt, [fmt(v) for v in yt]))
    nx, ny, ax_, ay, cx_, cy, gx, gy, lx, ly = dca_sets[k]
    line_trace(i, nx, ny, "#BDBDBD", 1.5)
    line_trace(i, ax_, ay, "#111", 1.1, "3px,3px")
    line_trace(i, gx, gy, BLUE, 1.1)
    line_trace(i, lx, ly, GREEN, 1.1)
    line_trace(i, cx_, cy, RED, 1.8)
    cx = (xd[0] + xd[1]) / 2
    text(f"<b>{cal_years[k]}−Year DCA Curves</b>", cx, 968, size=7.4, family=NARROW, color="#222")
    text("Net Benefit", e_ytitle_x[k], (F_TOP + F_BOT) / 2, size=7, family=NARROW, color="#333", angle=-90)
    text("Threshold Probability", cx, 1188, size=7, family=NARROW, color="#333")
    l0, l1, tx = f_leg[k]
    for yy, col, lab, dash in [(992, "#B5B5B5", "None", None), (999.6, "#111", "<b>All</b>", "dash"),
                               (1007.2, RED, "Combined", None), (1014.8, BLUE, "Age", None),
                               (1022.4, GREEN, "Number of positive lymphnodes", None)]:
        shapes.append(dict(type="line", xref="paper", yref="paper", x0=l0 / W, x1=l1 / W,
                           y0=1 - yy / H, y1=1 - yy / H, line=dict(color=col, width=1.2, dash=dash)))
        text(lab, tx, yy, size=6.6, family=NARROW, color=col, xanchor="left")

# ================= Panel letters =================
for lab, x, y in [("A", 10, 10), ("B", 10, 266), ("C", 503, 10), ("D", 9, 512), ("E", 8, 712), ("F", 8, 962)]:
    text(f"<b>{lab}</b>", x, y, size=16, family=SERIF, color="#111")

fig.update_layout(width=W, height=H, margin=dict(l=0, r=0, t=0, b=0), paper_bgcolor="white",
                  plot_bgcolor="white", showlegend=False, annotations=annotations, shapes=shapes, **axes)

fig.write_html("out.html", config={"displayModeBar": False},
               post_script="document.body.style.margin='0';"
               "document.documentElement.style.overflow='hidden';document.body.style.overflow='hidden';")
